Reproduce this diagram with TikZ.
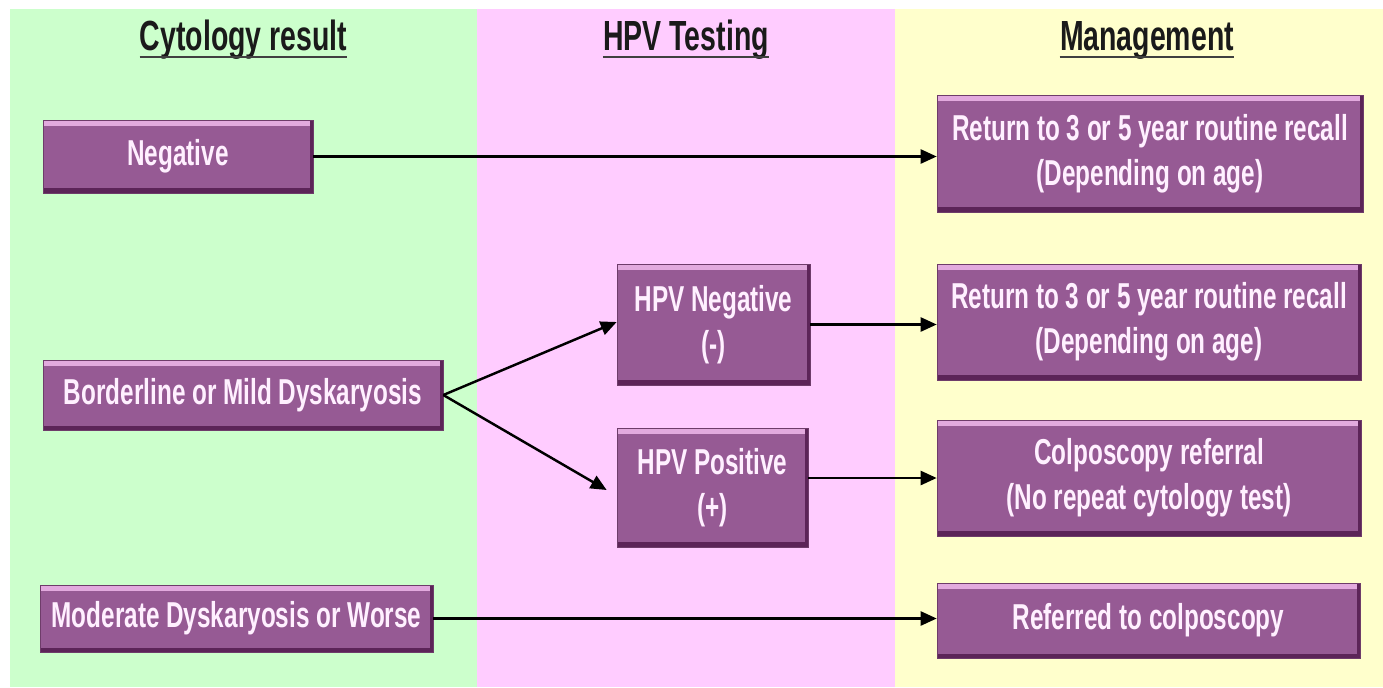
\documentclass[tikz,border=0pt]{standalone}
\usepackage{fontspec}
\newfontfamily\narrowsans{Liberation Sans}[FakeStretch=0.675]
\usetikzlibrary{arrows.meta}
\definecolor{bggreen}{RGB}{204,255,204}
\definecolor{bgpink}{RGB}{255,204,255}
\definecolor{bgyellow}{RGB}{255,255,204}
\definecolor{boxc}{RGB}{150,90,148}
\definecolor{boxhi}{RGB}{226,170,222}
\definecolor{boxdk}{RGB}{92,36,88}
\definecolor{boxedge}{RGB}{110,60,106}
\definecolor{txt}{RGB}{255,240,255}
\definecolor{hdr}{RGB}{26,26,26}
\definecolor{ulc}{RGB}{64,64,64}
\tikzset{
  box/.style={fill=boxc, draw=boxedge, line width=0.4pt, text=txt,
    font=\narrowsans\bfseries\fontsize{20.5}{25.5}\selectfont, align=center, inner sep=0pt,
    path picture={
      \fill[boxhi] (path picture bounding box.north west) rectangle ([yshift=-0.11cm]path picture bounding box.north east);
      \fill[boxdk] (path picture bounding box.south west) rectangle ([yshift=0.09cm]path picture bounding box.south east);
      \fill[boxdk] (path picture bounding box.south east) rectangle ([xshift=-0.06cm]path picture bounding box.north east);
    }},
  hdrtext/.style={text=hdr, font=\narrowsans\bfseries\fontsize{24}{28}\selectfont, inner sep=0pt, anchor=base},
  ul/.style={draw=ulc, line width=1.6pt},
  conn/.style={draw=black, line width=1.4pt, -{Triangle[length=0.32cm,width=0.28cm]}}
}
\begin{document}
\begin{tikzpicture}[x=0.02cm,y=-0.02cm]
\useasboundingbox (0,0) rectangle (1383,687);
\fill[white] (0,0) rectangle (1383,687);
\fill[bggreen] (10,9) rectangle (477,687);
\fill[bgpink] (477,9) rectangle (895,687);
\fill[bgyellow] (895,9) rectangle (1383,687);

% headers
\node[hdrtext] (h1) at (243.5,50) {Cytology result};
\node[hdrtext] (h2) at (686,50) {HPV Testing};
\node[hdrtext] (h3) at (1147,50) {Management};
\foreach \h in {h1,h2,h3}
  \draw[ul] ([yshift=-0.14cm]\h.base west) -- ([yshift=-0.14cm]\h.base east);

% cytology boxes
\node[box, minimum width=5.4cm, minimum height=1.46cm] (neg) at (178,156.5) {Negative};
\node[box, minimum width=8cm, minimum height=1.4cm] (bord) at (243,395) {Borderline or Mild Dyskaryosis};
\node[box, minimum width=7.86cm, minimum height=1.34cm] (mod) at (236.5,618.5) {Moderate Dyskaryosis or Worse};

% HPV boxes
\node[box, minimum width=3.86cm, minimum height=2.42cm] (hn) at (713.5,324.5) {HPV Negative\\(-)};
\node[box, minimum width=3.82cm, minimum height=2.38cm] (hp) at (712.5,487.5) {HPV Positive\\(+)};

% management boxes
\node[box, minimum width=8.52cm, minimum height=2.34cm] (m1) at (1150,153.5) {Return to 3 or 5 year routine recall\\(Depending on age)};
\node[box, minimum width=8.48cm, minimum height=2.32cm] (m2) at (1149,322) {Return to 3 or 5 year routine recall\\(Depending on age)};
\node[box, minimum width=8.48cm, minimum height=2.32cm] (m3) at (1149,478) {Colposcopy referral\\(No repeat cytology test)};
\node[box, minimum width=8.46cm, minimum height=1.5cm] (m4) at (1148.5,620.5) {Referred to colposcopy};

% connectors
\draw[conn] (neg.east) -- (neg.east -| m1.west);
\draw[conn] (bord.east) -- ([yshift=0.05cm]hn.west);
\draw[conn] (bord.east) -- ([xshift=-0.2cm,yshift=-0.05cm]hp.west);
\draw[conn] (hn.east) -- (hn.east -| m2.west);
\draw[conn] (hp.east |- m3.west) -- (m3.west);
\draw[conn] (mod.east) -- (mod.east -| m4.west);
\end{tikzpicture}
\end{document}
